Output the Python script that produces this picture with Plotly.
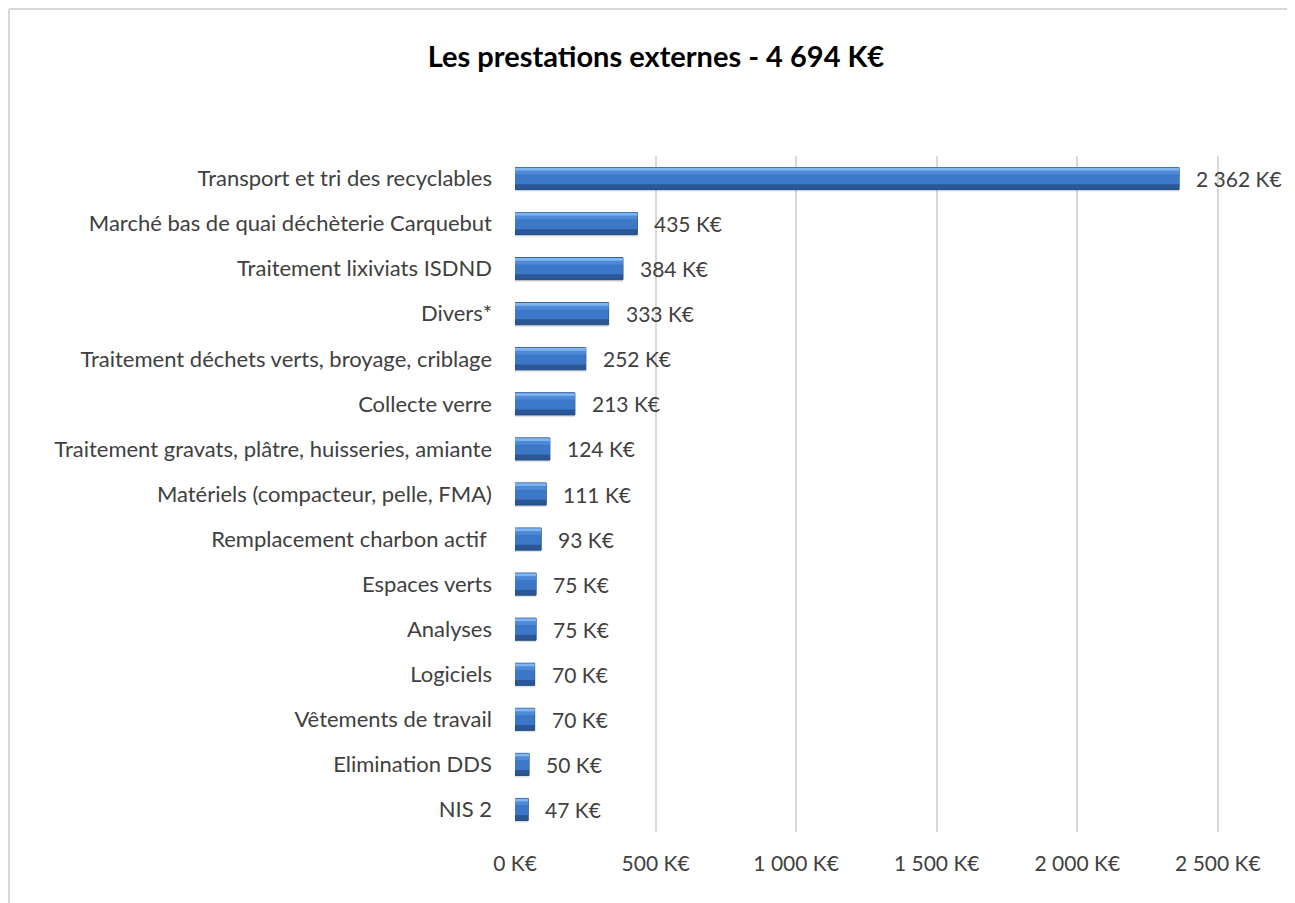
import plotly.graph_objects as go

categories = [
    'Transport et tri des recyclables',
    'Marché bas de quai déchèterie Carquebut',
    'Traitement lixiviats ISDND',
    'Divers*',
    'Traitement déchets verts, broyage, criblage',
    'Collecte verre',
    'Traitement gravats, plâtre, huisseries, amiante',
    'Matériels (compacteur, pelle, FMA)',
    'Remplacement charbon actif ',
    'Espaces verts',
    'Analyses',
    'Logiciels',
    'Vêtements de travail',
    'Elimination DDS',
    'NIS 2',
]
values = [2362, 435, 384, 333, 252, 213, 124, 111, 93, 75, 75, 70, 70, 50, 47]

tick_vals = [0, 500, 1000, 1500, 2000, 2500]
tick_text = ['0 K€', '500 K€', '1 000 K€', '1 500 K€', '2 000 K€', '2 500 K€']

FONT = 'Lato'
TXT = '#404040'


def keur(v):
    return '{:,}'.format(v).replace(',', ' ') + ' K€'


fig = go.Figure()

# faux bevel: bands stacked over one another
layers = [
    # (color, offset, width, line)
    ('rgba(0,0,0,0.12)', -0.20, 0.49, None),
    ('#2b5797', -0.245, 0.49, '#1f4a80'),
    ('#3d78c8', -0.245, 0.37, None),
    ('#4f8ad6', -0.225, 0.13, None),
    ('#80b6f0', -0.238, 0.06, None),
]
for color, off, w, line in layers:
    fig.add_trace(go.Bar(
        x=values, y=categories, orientation='h',
        offset=off, width=w,
        marker=dict(color=color,
                    line=dict(color=line or color, width=1 if line else 0)),
        hoverinfo='skip', showlegend=False))

for c, v in zip(categories, values):
    fig.add_annotation(x=v, y=c, text=keur(v), showarrow=False,
                       xanchor='left', xshift=15,
                       font=dict(family=FONT, size=21, color=TXT))

fig.update_layout(
    barmode='overlay',
    width=1287, height=895,
    margin=dict(l=507, r=49, t=148, b=71),
    paper_bgcolor='white', plot_bgcolor='white',
    font=dict(family=FONT, size=21, color=TXT),
    title=dict(text='<b>Les prestations externes - 4 694 K€</b>',
               xref='container', x=648 / 1287, xanchor='center',
               y=1 - 49 / 895, yanchor='middle',
               font=dict(family=FONT, size=29, color='black')),
)
fig.update_xaxes(range=[0, 2600], tickvals=tick_vals, ticktext=tick_text,
                 showgrid=True, gridcolor='#d9d9d9', gridwidth=1.5,
                 zeroline=False, showline=False, ticklabelstandoff=17,
                 tickfont=dict(family=FONT, size=21, color=TXT))
fig.update_yaxes(autorange='reversed', showgrid=False, showline=False,
                 ticklabelstandoff=22,
                 tickfont=dict(family=FONT, size=22, color=TXT))

# chart border: only the left and top edges show in the picture
bx0 = (1 - 507) / 731
by1 = (824 - 1) / 676
border = dict(color='#d9d9d9', width=2)
fig.add_shape(type='line', xref='paper', yref='paper',
              x0=bx0, x1=bx0, y0=-0.2, y1=by1, line=border, layer='below')
fig.add_shape(type='line', xref='paper', yref='paper',
              x0=bx0, x1=1.2, y0=by1, y1=by1, line=border, layer='below')

fig.write_html('out.html')
